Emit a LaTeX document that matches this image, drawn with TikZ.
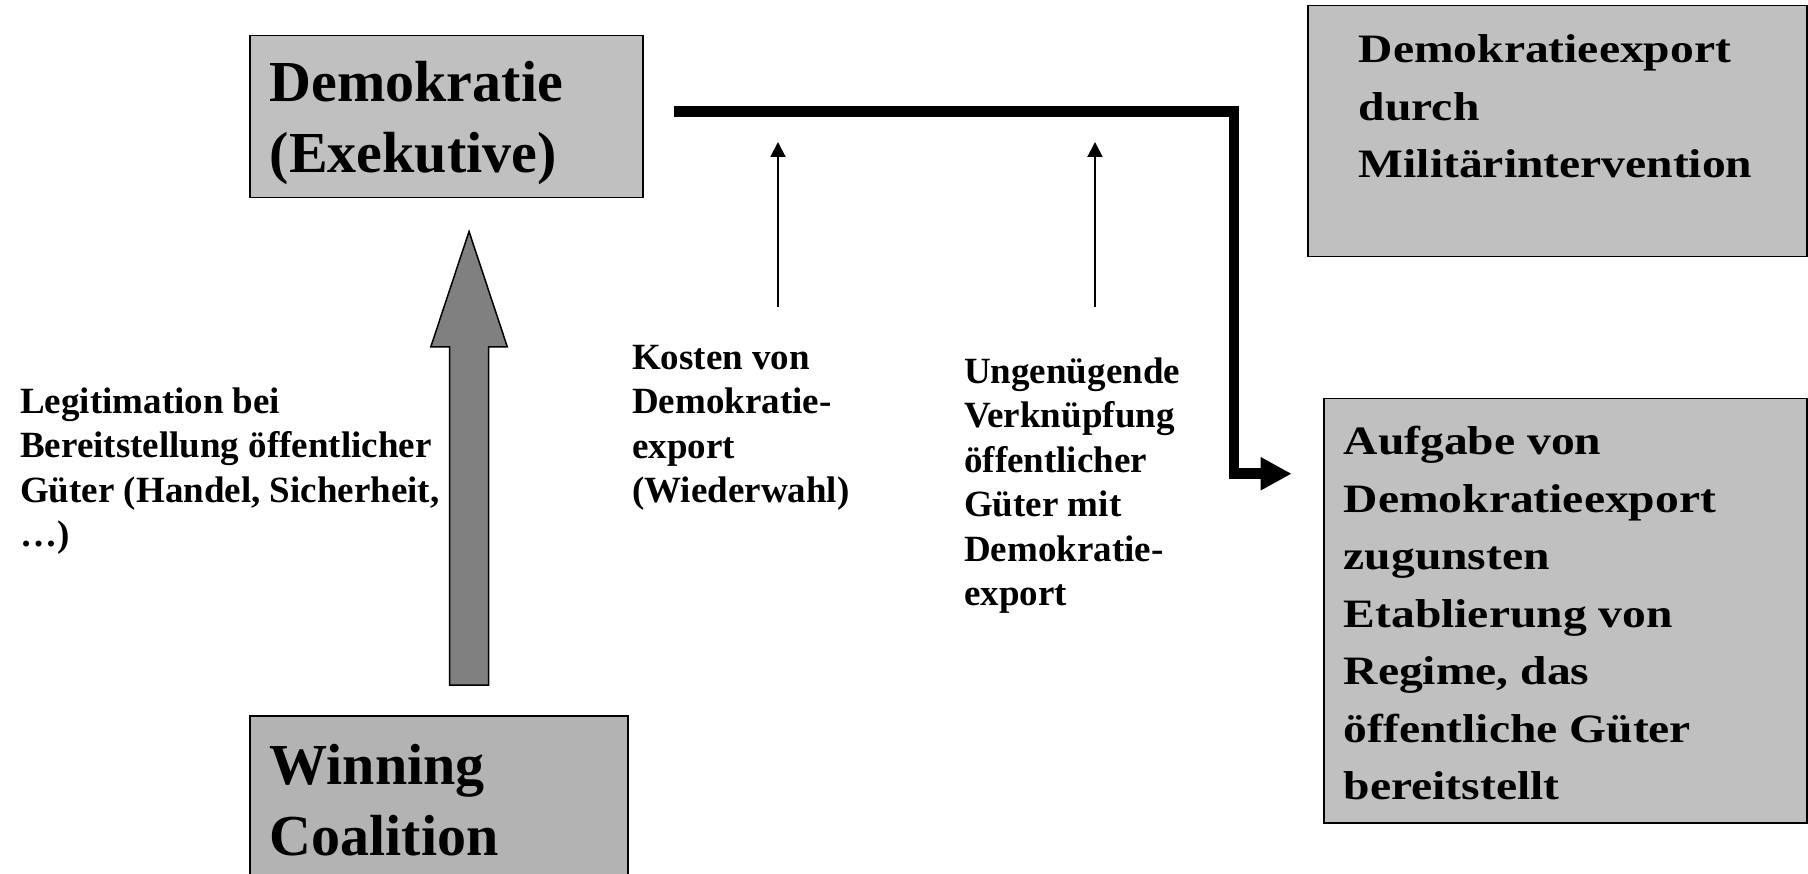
\documentclass[tikz,border=0pt]{standalone}
\usepackage{fontspec}
\setmainfont{Liberation Serif}
\newfontfamily\widefont[FakeStretch=1.18]{Liberation Serif}
\usetikzlibrary{arrows.meta,positioning,calc}
\definecolor{boxgray}{RGB}{192,192,192}
\definecolor{wingray}{RGB}{179,179,179}
\definecolor{arrowgray}{RGB}{128,128,128}

\begin{document}
\begin{tikzpicture}[x=1pt,y=-1pt,>=Latex,
    box/.style={draw,line width=1.5pt,fill=boxgray,anchor=north west,inner ysep=0pt},
    bigtext/.style={font=\fontsize{58}{71}\selectfont\bfseries},
    midtext/.style={font=\widefont\fontsize{40.3}{57.5}\selectfont\bfseries},
    smalltext/.style={font=\fontsize{37}{44.5}\selectfont\bfseries},
    note/.style={smalltext,anchor=north west,inner sep=0pt,align=left},
    heavy/.style={line width=10.5pt,-{Triangle[length=31pt,width=31pt]}},
    light/.style={line width=2pt,-{Triangle[length=15pt,width=15pt]}},
    bigarrow/.style={draw,line width=1.5pt,fill=arrowgray}]
    \useasboundingbox (0,0) rectangle (1808,874);

    % boxes
    \node[box,bigtext,inner xsep=20pt] (demo) at (249,35)
      {\parbox[t][162pt][t]{353pt}{\rule{0pt}{66pt}Demokratie\\(Exekutive)}};
    \node[box,bigtext,fill=wingray,inner xsep=20pt] (wc) at (249,715)
      {\parbox[t][200pt][t]{338pt}{\rule{0pt}{69pt}Winning\\Coalition}};
    \node[box,midtext,inner xsep=51pt] (mil) at (1307,5)
      {\parbox[t][251pt][t]{397pt}{\rule{0pt}{57pt}Demokratieexport\\durch\\Militärintervention}};
    \node[box,midtext,inner xsep=20pt] (auf) at (1323,398)
      {\parbox[t][424pt][t]{443pt}{\rule{0pt}{56pt}Aufgabe von\\Demokratieexport\\zugunsten\\Etablierung von\\Regime, das\\öffentliche Güter\\bereitstellt}};

    % labels
    \node[note] (legit) at (20,383) {\rule{0pt}{30pt}Legitimation bei\\Bereitstellung öffentlicher\\Güter (Handel, Sicherheit,\\…)};
    \node[note] (kosten) at (632,339) {\rule{0pt}{30pt}Kosten von\\Demokratie-\\export\\(Wiederwahl)};
    \node[note] (ungen) at (964,353) {\rule{0pt}{30pt}Ungenügende\\Verknüpfung\\öffentlicher\\Güter mit\\Demokratie-\\export};

    % big arrow
    \coordinate (tip) at ($(demo.south)+(22.8,33)$);
    \path ($(wc.north)+(0,-30)$) coordinate (tailrow);
    \coordinate (tail) at (tip |- tailrow);
    \draw[bigarrow] (tip) -- ++(38.3,115.5) -- ++(-18.8,0) -- ($(tail)+(19.5,0)$)
      -- ++(-39,0) -- ($(tip)+(-19.5,115.5)$) -- ++(-18.8,0) -- cycle;

    % connectors
    \draw[heavy] ($(demo.east)+(30,-5)$) -- ++(560.5,0) |- ($(auf.west)+(-31.3,-137)$);
    \draw[light] ($(kosten.north west)+(146,-32)$) -- ++(0,-165);
    \draw[light] ($(ungen.north west)+(131,-46)$) -- ++(0,-165);
\end{tikzpicture}
\end{document}
